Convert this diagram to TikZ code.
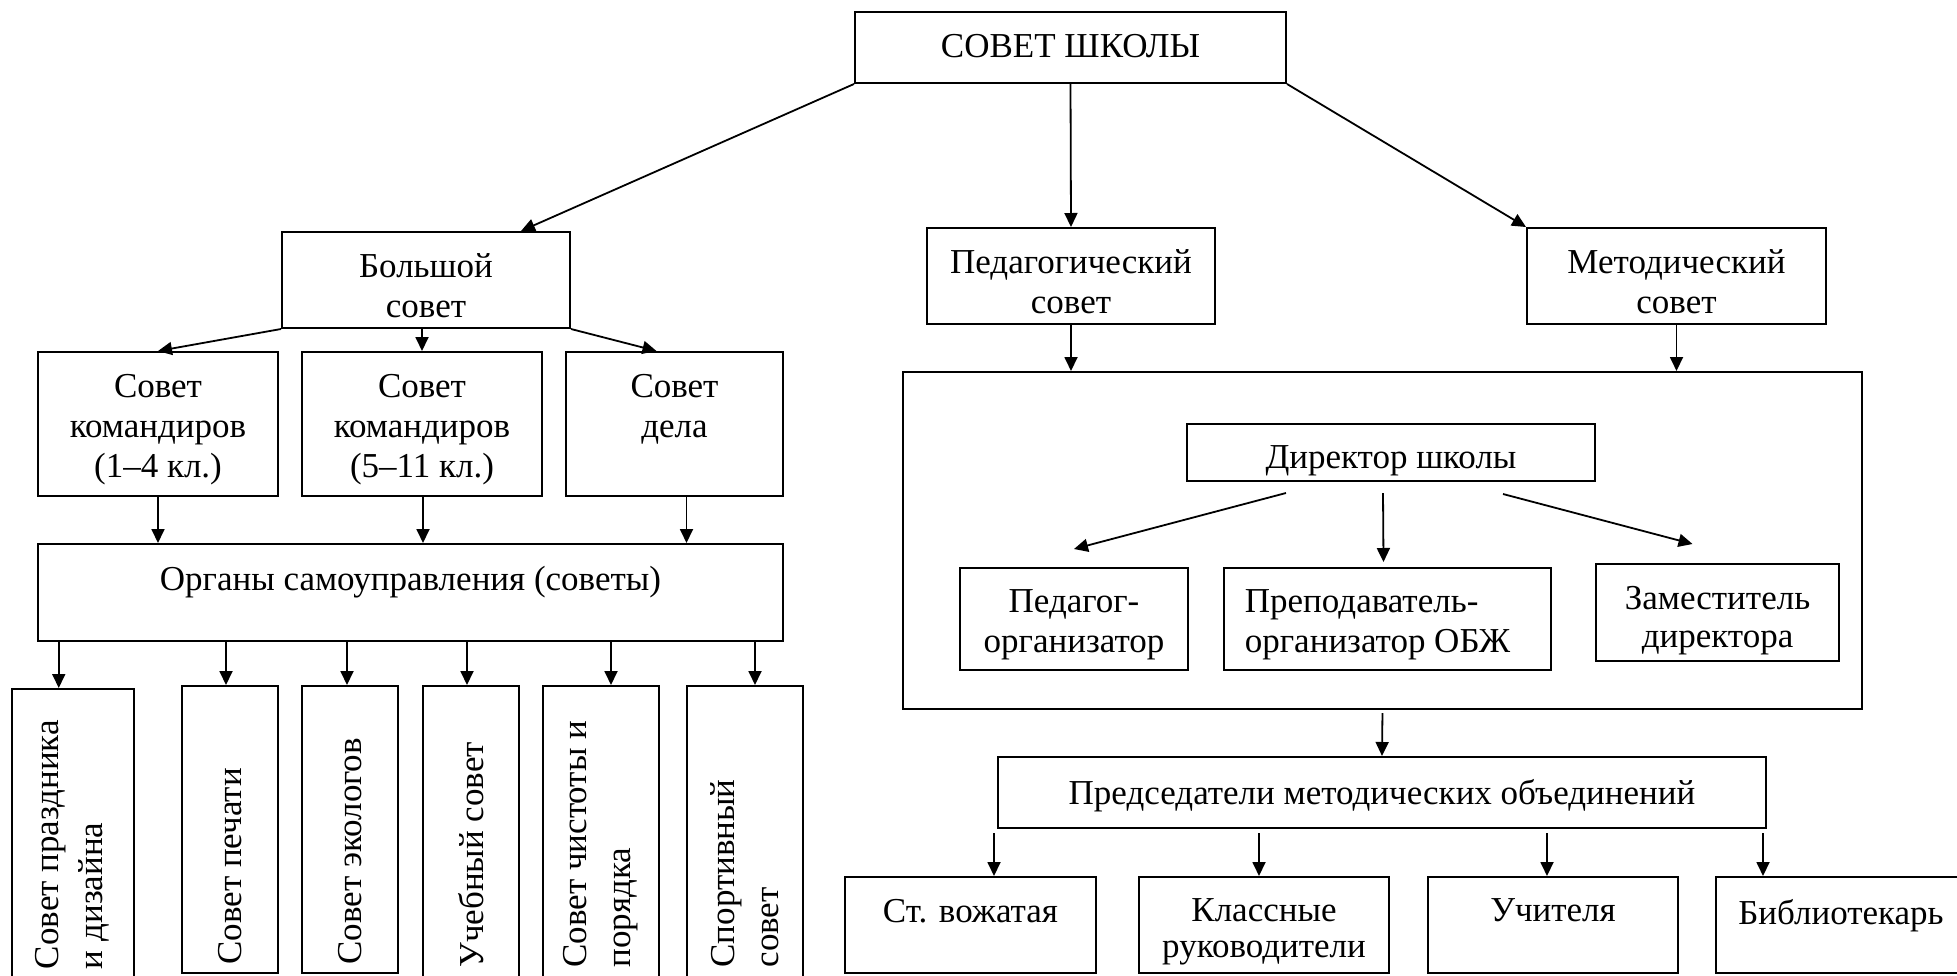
\documentclass[tikz,border=0pt]{standalone}
\usepackage{fontspec}
\setmainfont{Liberation Serif}
\usepackage{graphicx}
\usepackage{tikz}
\tikzset{every picture/.style={line width=2pt, x=1pt, y=-1pt}}
\tikzset{box/.style={draw, rectangle, inner sep=0pt}}
\tikzset{txt/.style={anchor=north, yshift=-22pt, inner sep=0pt, align=center, font=\fontsize{35}{40}\selectfont}}
\tikzset{vbox/.style={box, font=\fontsize{35}{44}\selectfont}}
\tikzset{arr/.style={-{Triangle[length=14pt,width=13pt]}, line width=1.8pt}}
\usetikzlibrary{arrows.meta}

\begin{document}
\begin{tikzpicture}
\useasboundingbox (0,0) rectangle (1957,975);
% top level
\node[box, minimum width=431pt, minimum height=71pt, label={[txt]north:СОВЕТ ШКОЛЫ}] (school) at (1070.5,47.5) {};
\node[box, minimum width=288pt, minimum height=96pt, label={[txt]north:Большой\\совет}] (big) at (426,280) {};
\node[box, minimum width=288pt, minimum height=96pt, label={[txt]north:Педагогический\\совет}] (ped) at (1071,276) {};
\node[box, minimum width=299pt, minimum height=96pt, label={[txt]north:Методический\\совет}] (met) at (1676.5,276) {};
\draw[arr] (school.south west) -- ([xshift=-50pt]big.north east);
\draw[arr] (school.south) -- (ped.north);
\draw[arr] (school.south east) -- (met.north west);

% left part
\node[box, minimum width=240pt, minimum height=144pt, label={[txt]north:Совет\\командиров\\(1–4 кл.)}] (kom1) at (158,424) {};
\node[box, minimum width=240pt, minimum height=144pt, label={[txt]north:Совет\\командиров\\(5–11 кл.)}] (kom2) at (422,424) {};
\node[box, minimum width=217pt, minimum height=144pt, label={[txt]north:Совет\\дела}] (delo) at (674.5,424) {};
\draw[arr] (big.south west) -- (kom1.north);
\draw[arr] (kom2.north |- big.south) -- (kom2.north);
\draw[arr] (big.south east) -- ([xshift=-18pt]delo.north);
\node[box, minimum width=745pt, minimum height=97pt, label={[txt]north:Органы самоуправления (советы)}] (org) at (410.5,592.5) {};
\foreach \n/\dx in {kom1/0, kom2/1, delo/12} {
  \coordinate (b\n) at ([xshift=\dx pt]\n.south);
  \draw[arr] (b\n) -- (b\n |- org.north);
}
\foreach \n/\x/\w/\t/\len/\dx/\txt in {
  prazd/72.75/122.5/688/290/-14/{Совет праздника\\и дизайна},
  pech/230/95.5/685/287/-4/{Совет печати},
  eko/350/96.5/685/287/-3/{Совет экологов},
  ucheb/471/96.4/685/293/-4/{Учебный совет},
  chist/601/116/685/293/10/{Совет чистоты и\\порядка},
  sport/745/116/685/293/10/{Спортивный\\совет}} {
  \node[vbox, minimum width=\w pt, minimum height=\len pt, anchor=north] (\n) at (\x,\t)
    {\rotatebox{90}{\parbox{270pt}{\raggedright\baselineskip=44pt \txt}}};
  \coordinate (t\n) at ([xshift=\dx pt]\n.north);
  \draw[arr] (t\n |- org.south) -- (t\n);
}

% right part
\node[box, minimum width=959pt, minimum height=337pt] (frame) at (1382.5,540.5) {};
\draw[arr] (ped.south) -- (ped.south |- frame.north);
\draw[arr] (met.south) -- (met.south |- frame.north);
\node[box, minimum width=408pt, minimum height=57pt, label={[txt]north:Директор школы}] (dir) at (1391,452.5) {};
\node[box, minimum width=228pt, minimum height=102pt, label={[txt]north:Педагог-\\организатор}] (porg) at (1074,619) {};
\node[box, minimum width=327pt, minimum height=102pt, label={[txt, align=left, xshift=-10pt]north:Преподаватель-\\организатор ОБЖ}] (obzh) at (1387.5,619) {};
\node[box, minimum width=243pt, minimum height=97pt, label={[txt, font=\fontsize{35}{38}\selectfont]north:Заместитель\\директора}] (zam) at (1717.5,612.5) {};
\draw[arr] ([xshift=-105pt,yshift=-11pt]dir.south) -- ([yshift=18pt]porg.north);
\draw[arr] ([xshift=-8pt,yshift=-11pt]dir.south) -- ([xshift=-4pt,yshift=5pt]obzh.north);
\draw[arr] ([xshift=112pt,yshift=-12pt]dir.south) -- ([xshift=-25pt,yshift=19pt]zam.north);

\node[box, minimum width=768pt, minimum height=71pt, label={[txt]north:Председатели методических объединений}] (pred) at (1382,792.5) {};
\draw[arr, shorten <=3pt] (frame.south) -- (pred.north);
\node[box, minimum width=251pt, minimum height=96pt, label={[txt]north:Ст. вожатая}] (vozh) at (970.5,925) {};
\node[box, minimum width=250pt, minimum height=96pt, label={[txt, font=\fontsize{35}{36}\selectfont]north:Классные\\руководители}] (kl) at (1264,925) {};
\node[box, minimum width=250pt, minimum height=96pt, label={[txt]north:Учителя}] (uch) at (1553,925) {};
\node[box, minimum width=250pt, minimum height=96pt, label={[txt]north:Библиотекарь}] (bib) at (1841,925) {};
\foreach \n/\dx in {vozh/23.5, kl/-5, uch/-6, bib/-78} {
  \coordinate (t\n) at ([xshift=\dx pt]\n.north);
  \draw[arr, shorten <=4pt] (t\n |- pred.south) -- (t\n);
}
\end{tikzpicture}
\end{document}
